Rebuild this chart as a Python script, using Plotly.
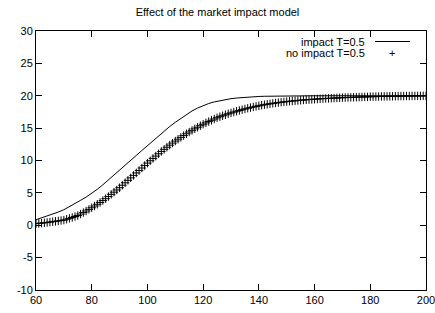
import plotly.graph_objects as go

title_text = "Effect of the market impact model"
impact_name = "impact T=0.5"
noimpact_name = "no impact T=0.5"

impact_x = list(range(60, 201, 2))
impact_y = [0.85, 1.12, 1.40, 1.70, 2.04, 2.40, 2.85, 3.33, 3.85, 4.35,
            4.90, 5.55, 6.25, 6.98, 7.74, 8.50, 9.26, 10.02, 10.78, 11.54,
            12.30, 13.06, 13.82, 14.55, 15.25, 15.90, 16.52, 17.15, 17.65, 18.10,
            18.50, 18.80, 19.05, 19.25, 19.42, 19.55, 19.65, 19.73, 19.80, 19.85,
            19.89, 19.92, 19.94, 19.96, 19.97, 19.98, 19.98, 19.99, 19.99,
            20.0, 20.0, 20.0, 20.0, 20.0, 20.0, 20.0, 20.0, 20.0, 20.0, 20.0,
            20.0, 20.0, 20.0, 20.0, 20.0, 20.0, 20.0, 20.0, 20.0, 20.0, 20.0]

noimpact_x = list(range(60, 201))
noimpact_y = [0.25, 0.29, 0.33, 0.38, 0.43, 0.49, 0.55, 0.61, 0.67, 0.73,
              0.80, 0.93, 1.06, 1.20, 1.35, 1.50, 1.73, 1.96, 2.20, 2.45,
              2.70, 2.97, 3.24, 3.52, 3.81, 4.10, 4.43, 4.77, 5.11, 5.45,
              5.80, 6.18, 6.56, 6.94, 7.32, 7.70, 8.08, 8.46, 8.84, 9.22,
              9.60, 9.96, 10.32, 10.68, 11.04, 11.40, 11.73, 12.05, 12.37, 12.69,
              13.00, 13.29, 13.57, 13.85, 14.13, 14.40, 14.65, 14.89, 15.13, 15.37,
              15.60, 15.81, 16.01, 16.21, 16.41, 16.60, 16.76, 16.91, 17.06, 17.21,
              17.35, 17.48, 17.61, 17.73, 17.85, 17.96, 18.07, 18.17, 18.27, 18.36,
              18.45, 18.54, 18.62, 18.69, 18.76, 18.82, 18.88, 18.94, 19.00, 19.05,
              19.10, 19.15, 19.19, 19.23, 19.27, 19.31, 19.35, 19.38, 19.41, 19.44,
              19.47, 19.50, 19.53, 19.55, 19.58, 19.60, 19.62, 19.64, 19.66, 19.68,
              19.70, 19.72, 19.74, 19.75, 19.77, 19.78, 19.80, 19.81, 19.82, 19.83,
              19.85, 19.86, 19.87, 19.88, 19.89, 19.90, 19.91, 19.92, 19.92, 19.93,
              19.94, 19.95, 19.95, 19.96, 19.96, 19.97, 19.97, 19.98, 19.98, 19.99,
              19.99]

x_ticks = [60, 80, 100, 120, 140, 160, 180, 200]
y_ticks = [-10, -5, 0, 5, 10, 15, 20, 25, 30]

FONT = "Liberation Sans, Arial, sans-serif"

W, H = 435, 313
L, R, T, B = 36, 9, 31, 23
pw, ph = W - L - R, H - T - B


def px(xp):
    return (xp - L) / pw


def py(yp):
    return 1 - (yp - T) / ph


fig = go.Figure()
fig.add_trace(go.Scatter(x=impact_x, y=impact_y, mode="lines", name=impact_name,
                         line=dict(color="black", width=1), showlegend=False))
fig.add_trace(go.Scatter(x=noimpact_x, y=noimpact_y, mode="markers", name=noimpact_name,
                         marker=dict(symbol="cross-thin", size=6, color="black",
                                     line=dict(color="black", width=1)),
                         showlegend=False))

# gnuplot-style legend: text right-aligned, then sample
leg_items = [(impact_name, 41.5), (noimpact_name, 53)]
for name, yp in leg_items:
    fig.add_annotation(x=px(367), y=py(yp), xref="paper", yref="paper", text=name,
                       showarrow=False, xanchor="right", yanchor="middle",
                       font=dict(family=FONT, size=11, color="black"))
fig.add_shape(type="line", xref="paper", yref="paper",
              x0=px(375), x1=px(410), y0=py(41.5), y1=py(41.5),
              line=dict(color="black", width=1))
fig.add_annotation(x=px(392), y=py(53), xref="paper", yref="paper", text="+",
                   showarrow=False, xanchor="center", yanchor="middle",
                   font=dict(family=FONT, size=11, color="black"))

fig.update_layout(
    width=W, height=H,
    margin=dict(l=L, r=R, t=T, b=B, autoexpand=False),
    paper_bgcolor="white", plot_bgcolor="white",
    font=dict(family=FONT, size=11, color="black"),
    title=dict(text=title_text, x=0.5, xanchor="center", y=1 - 12.5 / H, yanchor="middle",
               font=dict(family=FONT, size=11, color="black")),
    xaxis=dict(range=[60, 200], tickvals=x_ticks, ticktext=[str(v) for v in x_ticks],
               ticks="inside", ticklen=6, tickwidth=1, tickcolor="black",
               showline=True, linecolor="black", linewidth=1, mirror="ticks",
               showgrid=False, zeroline=False, fixedrange=True, automargin=False,
               ticklabeloverflow="allow"),
    yaxis=dict(range=[-10, 30], tickvals=y_ticks, ticktext=[str(v) for v in y_ticks],
               ticks="inside", ticklen=6, tickwidth=1, tickcolor="black",
               showline=True, linecolor="black", linewidth=1, mirror="ticks",
               showgrid=False, zeroline=False, fixedrange=True, automargin=False,
               ticklabeloverflow="allow"),
)

fig.write_html("out.html", config={"displayModeBar": False},
               post_script="document.body.style.margin='0';document.body.style.overflow='hidden';")
